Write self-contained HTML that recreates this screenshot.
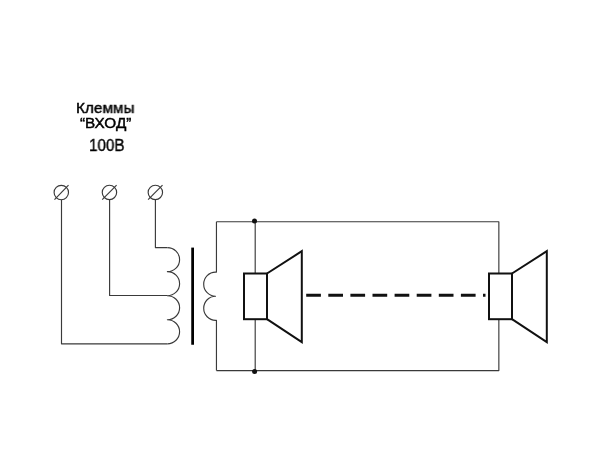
<!DOCTYPE html>
<html><head><meta charset="utf-8">
<style>
html,body{margin:0;padding:0;background:#fff;width:600px;height:476px;overflow:hidden}
svg{position:absolute;left:0;top:0}
.t{position:absolute;font-family:"Liberation Sans",sans-serif;color:#000;white-space:nowrap;line-height:1;transform-origin:0 0;-webkit-text-stroke:0.45px #000;will-change:transform}
</style></head><body>
<svg width="600" height="476" viewBox="0 0 600 476">
<g fill="none" stroke="#3a3a3a" stroke-width="1.15" stroke-linejoin="round">
  <circle cx="61.3" cy="192.5" r="7.2"/>
  <circle cx="109.45" cy="192.4" r="7.2"/>
  <circle cx="155.35" cy="192.4" r="7.2"/>
  <line x1="54.5" y1="199.7" x2="68.5" y2="185.2"/>
  <line x1="102.2" y1="199.6" x2="116.6" y2="185.1"/>
  <line x1="148.1" y1="199.6" x2="162.5" y2="185.1"/>
  <path d="M61.5 199.7 V343.8 H167.4"/>
  <path d="M109.6 199.6 V295.5 H167.4"/>
  <path d="M155.4 199.6 V247.6 H167.4"/>
  <path d="M167.4 247.6 A12.2 12.025 0 0 1 167.4 271.65 A12.2 12.025 0 0 1 167.4 295.7 A12.2 12.025 0 0 1 167.4 319.75 A12.2 12.025 0 0 1 167.4 343.8"/>
  <path d="M216.45 221.7 V272.1 H215.5 A11.8 12.05 0 0 0 215.5 296.2 A11.8 12.05 0 0 0 215.5 320.3 H216.45 V370.55"/>
  <path d="M216.45 221.7 H498.85 V370.55 H216.45"/>
  <line x1="255.2" y1="221.7" x2="255.2" y2="370.55"/>
</g>
<g fill="#111">
  <circle cx="254.5" cy="221" r="2.5"/>
  <circle cx="254.6" cy="371.5" r="2.5"/>
</g>
<rect x="191.25" y="247.6" width="2.75" height="97.15" fill="#000"/>
<g fill="#fff" stroke="#111" stroke-width="2" stroke-linejoin="miter">
  <path d="M267 273.5 L301.8 251.2 V342.1 L267 319.2"/>
  <rect x="244" y="273.5" width="23" height="45.7"/>
  <path d="M512 273.5 L546.8 251.2 V342.1 L512 319.2"/>
  <rect x="489" y="273.5" width="23" height="45.7"/>
</g>
<line x1="306.2" y1="295.3" x2="485.5" y2="295.3" stroke="#111" stroke-width="3" stroke-dasharray="14.7 7.4"/>
</svg>
<div class="t" style="left:75.8px;top:100.1px;font-size:15.5px;transform:scaleX(0.99)">Клеммы</div>
<div class="t" style="left:79.6px;top:114.9px;font-size:15.3px">“ВХОД”</div>
<div class="t" style="left:88.9px;top:137.3px;font-size:16.2px;transform:scaleX(0.94);-webkit-text-stroke:0.35px #000">100В</div>
</body></html>
